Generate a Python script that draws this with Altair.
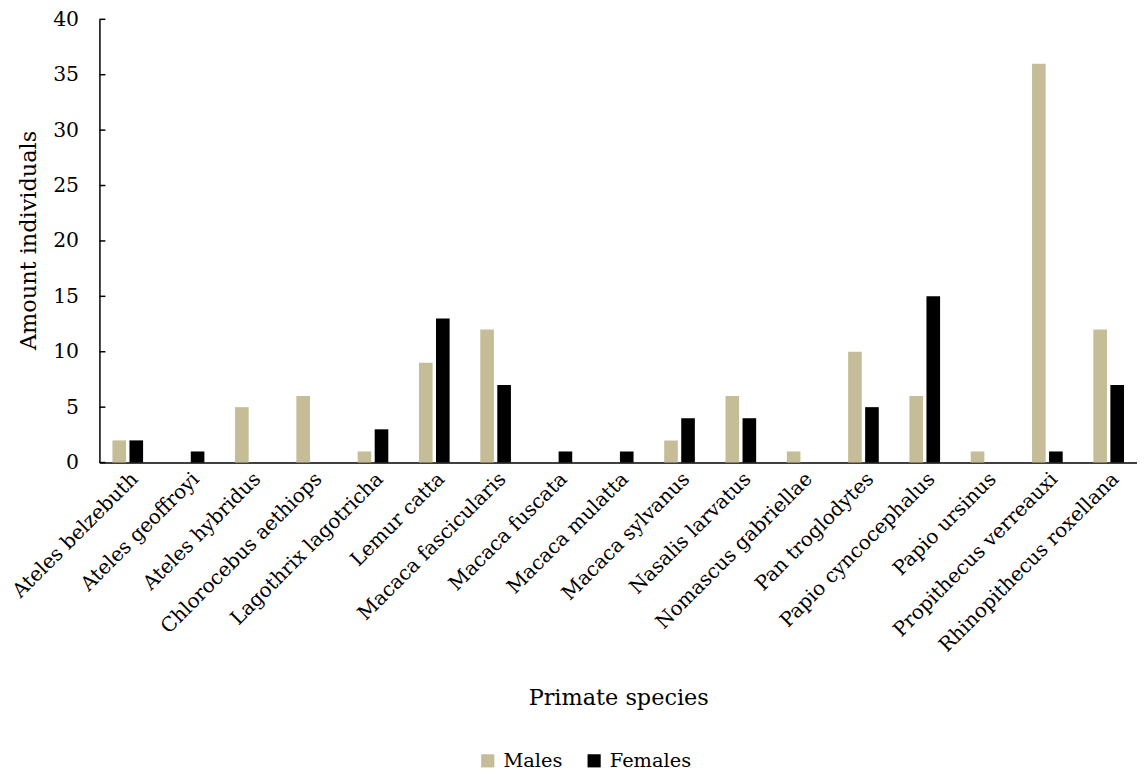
import altair as alt
import pandas as pd

species = [
    "Ateles belzebuth", "Ateles geoffroyi", "Ateles hybridus", "Chlorocebus aethiops",
    "Lagothrix lagotricha", "Lemur catta", "Macaca fascicularis", "Macaca fuscata",
    "Macaca mulatta", "Macaca sylvanus", "Nasalis larvatus", "Nomascus gabriellae",
    "Pan troglodytes", "Papio cyncocephalus", "Papio ursinus", "Propithecus verreauxi",
    "Rhinopithecus roxellana",
]
males = [2, 0, 5, 6, 1, 9, 12, 0, 0, 2, 6, 1, 10, 6, 1, 36, 12]
females = [2, 1, 0, 0, 3, 13, 7, 1, 1, 4, 4, 0, 5, 15, 0, 1, 7]
series = ["Males", "Females"]
colors = ["#C4BD97", "#000000"]
y_ticks = [0, 5, 10, 15, 20, 25, 30, 35, 40]

rows = []
for s, m, f in zip(species, males, females):
    rows.append({"species": s, "sex": "Males", "count": m})
    rows.append({"species": s, "sex": "Females", "count": f})
df = pd.DataFrame(rows)
ticks_df = pd.DataFrame({"count": y_ticks})

FONT = "DejaVu Serif"

y_axis = alt.Axis(
    title="Amount individuals",
    values=y_ticks,
    grid=False,
    ticks=False,
    domainColor="#000000",
    domainWidth=1.5,
    labelFontSize=20.5,
    labelPadding=21,
    titleFontSize=22.5,
    titleFontWeight="normal",
    titleX=-71,
    titleY=222,
    titleAngle=270,
    titleBaseline="middle",
    titleAlign="center",
    labelColor="#000000",
    titleColor="#000000",
)

bars = alt.Chart(df).mark_bar().encode(
    x=alt.X(
        "species:N",
        sort=species,
        scale=alt.Scale(paddingInner=0.5, paddingOuter=0.212),
        axis=alt.Axis(
            title="Primate species",
            labelAngle=-45,
            labelFontSize=20,
            labelPadding=6,
            labelLimit=0,
            ticks=False,
            domainColor="#000000",
            domainWidth=1.5,
            titleFontSize=22.5,
            titleFontWeight="normal",
            titleY=236,
            titleBaseline="middle",
            labelColor="#000000",
            titleColor="#000000",
        ),
    ),
    xOffset=alt.XOffset("sex:N", sort=series, scale=alt.Scale(paddingInner=0.2)),
    y=alt.Y("count:Q", scale=alt.Scale(domain=[0, 40], nice=False), axis=y_axis),
    color=alt.Color(
        "sex:N",
        sort=series,
        scale=alt.Scale(domain=series, range=colors),
        legend=alt.Legend(
            title=None,
            orient="none",
            legendX=381,
            legendY=736,
            direction="horizontal",
            symbolType="square",
            symbolSize=175,
            symbolStrokeWidth=0,
            labelFontSize=19.5,
            labelOffset=6,
            columnPadding=22,
            labelColor="#000000",
        ),
    ),
)

tick_marks = alt.Chart(ticks_df).mark_rule(color="#000000", strokeWidth=1.5).encode(
    y=alt.Y("count:Q", scale=alt.Scale(domain=[0, 40], nice=False), axis=y_axis),
    x=alt.value(0),
    x2=alt.value(6),
)

chart = alt.layer(bars, tick_marks).properties(
    width=1044,
    height=446,
    autosize=alt.AutoSizeParams(type="none"),
    padding={"left": 92, "top": 9, "right": 0, "bottom": 311},
).configure(font=FONT).configure_view(stroke=None)

chart.save("out.html", embed_options={"renderer": "svg", "actions": False})
